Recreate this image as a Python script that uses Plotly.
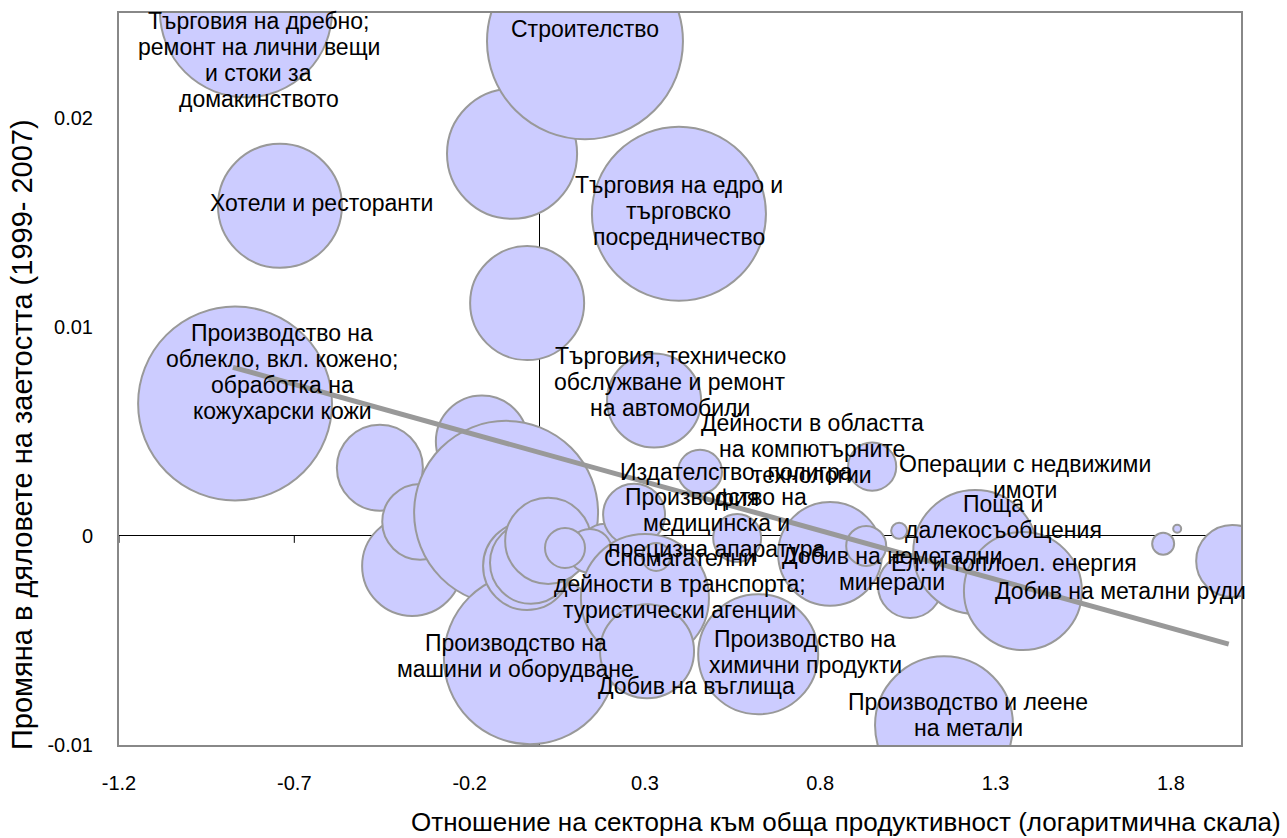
import plotly.graph_objects as go

# ---------------- data ----------------
sectors = [
    "Търговия на дребно", "Сектор A", "Строителство", "Хотели и ресторанти",
    "Търговия на едро", "Сектор B", "Облекло", "Автомобили",
    "Сектор C", "Сектор D", "Сектор E", "Сектор F", "Сектор G",
    "Машини и оборудване", "Сектор H", "Сектор I", "Сектор J",
    "Сектор K", "Сектор L", "Сектор M", "Сектор N",
    "Спомагателни дейности в транспорта", "Добив на въглища", "Химични продукти",
    "Издателство", "Медицинска апаратура", "Сектор O",
    "Добив на неметални минерали", "Сектор P", "Сектор Q", "Сектор R",
    "Поща и далекосъобщения", "Ел. и топлоел. енергия", "Компютърни технологии",
    "Производство и леене на метали", "Операции с недвижими имоти", "Сектор S",
    "Добив на метални руди",
]
# log relative productivity
x_vals = [
    -0.838, -0.079, 0.129, -0.741,
    0.397, -0.036, -0.869, 0.326,
    -0.456, -0.364, -0.341, -0.165, -0.096,
    -0.028, -0.036, -0.025, 0.024,
    0.186, 0.143, 0.072, 0.269,
    0.300, 0.306, 0.623,
    0.457, 0.563, 0.332,
    0.828, 0.931, 1.025, 1.056,
    1.242, 1.378, 0.948,
    1.153, 1.778, 1.818,
    1.975,
]
# change in employment share 1999-2007
y_vals = [
    0.02508, 0.01827, 0.02365, 0.01578,
    0.01540, 0.01113, 0.00633, 0.00647,
    0.00326, -0.00144, 0.00067, 0.00451, 0.00110,
    -0.00585, -0.00144, -0.00129, -0.00024,
    -0.00062, -0.00072, -0.00058, 0.00101,
    -0.00297, -0.00552, -0.00566,
    0.00307, -0.00010, -0.00101,
    -0.00086, -0.00048, 0.00024, -0.00240,
    -0.00077, -0.00264, 0.00331,
    -0.00906, -0.00038, 0.00034,
    -0.00120,
]
# bubble size (employment weight)
bubble_size = [
    74.0, 42.3, 96.0, 38.4,
    75.7, 32.5, 94.0, 22.1,
    18.5, 25.0, 14.4, 21.2, 84.6,
    74.0, 19.4, 16.8, 18.5,
    6.25, 4.84, 4.0, 9.6,
    41.0, 22.1, 36.0,
    4.84, 5.76, 1.96,
    27.0, 4.0, 0.64, 10.2,
    38.4, 34.8, 5.8,
    47.6, 1.21, 0.16,
    13.0,
]
labels = [
    "Търговия на дребно;<br>ремонт на лични вещи<br>и стоки за<br>домакинството", "",
    "Строителство", "Хотели и ресторанти",
    "Търговия на едро и<br>търговско<br>посредничество", "",
    "Производство на<br>облекло, вкл. кожено;<br>обработка на<br>кожухарски кожи",
    "Търговия, техническо<br>обслужване и ремонт<br>на автомобили",
    "", "", "", "", "",
    "Производство на<br>машини и оборудване", "", "", "",
    "", "", "", "",
    "Спомагателни<br>дейности в транспорта;<br>туристически агенции",
    "Добив на въглища",
    "Производство на<br>химични продукти",
    "Издателство, полигра<br>фия",
    "Производство на<br>медицинска и<br>прецизна апаратура", "",
    "Добив на неметални<br>минерали", "", "", "",
    "Поща и<br>далекосъобщения", "Ел. и топлоел. енергия",
    "Дейности в областта<br>на компютърните<br>технологии",
    "Производство и леене<br>на метали",
    "Операции с недвижими<br>имоти", "",
    "Добив на метални руди",
]
# label offsets from bubble centre (px)
label_dx = [13, 0, 0, 42, 0, 0, 47, 16, 0, 0, 0, 0, 0, -14, 0, 0, 0, 0, 0, 0, 0,
            35, 49, 47, 37, -21, 0, 62, 0, 0, 0, 28, -9, -60, 24, -138, 0, -112]
label_dy = [-49, 0, 12, 3, 3, 0, 31, 19, 0, 0, 0, 0, 0, 2, 0, 0, 0, 0, 0, 0, 0,
            14, -35, 2, -13, 15, 0, -15, 0, 0, 0, 35, 28, 18, 10, 67, 0, -30]

trend_x = [-0.875, 1.965]
trend_y = [0.00806, -0.00518]

x_ticks = [-1.2, -0.7, -0.2, 0.3, 0.8, 1.3, 1.8]
x_tick_text = ["-1.2", "-0.7", "-0.2", "0.3", "0.8", "1.3", "1.8"]
y_ticks = [-0.01, 0, 0.01, 0.02]
y_tick_text = ["-0.01", "0", "0.01", "0.02"]

x_title = "Отношение на секторна към обща продуктивност (логаритмична скала)"
y_title = "Промяна в дяловете на заетостта (1999- 2007)"

# ---------------- layout constants ----------------
W, H = 1287, 838
M = dict(l=119, r=46, t=13, b=93)
X_RANGE = [-1.2, 2.0]
Y_RANGE = [-0.01, 0.025]
FONT = "Liberation Sans, Arial, sans-serif"
LABEL_SIZE = 23
LINE_GAP = 26
px_per_y = (H - M["t"] - M["b"]) / (Y_RANGE[1] - Y_RANGE[0])

fig = go.Figure()

fig.add_trace(go.Scatter(
    x=x_vals, y=y_vals, mode="markers", text=sectors, hoverinfo="text",
    marker=dict(size=bubble_size, sizemode="area", sizeref=0.005,
                color="#CCCCFF", opacity=1,
                line=dict(color="#999999", width=2)),
    showlegend=False,
))
fig.add_trace(go.Scatter(
    x=trend_x, y=trend_y, mode="lines",
    line=dict(color="#999999", width=5), hoverinfo="skip", showlegend=False,
))

for xv, yv, lab, dx, dy in zip(x_vals, y_vals, labels, label_dx, label_dy):
    if not lab:
        continue
    # keep anchor inside the axis range (annotations outside are hidden)
    ya = min(max(yv, Y_RANGE[0]), Y_RANGE[1])
    extra = (yv - ya) * px_per_y
    lines = lab.split("<br>")
    n = len(lines)
    for i, ln in enumerate(lines):
        fig.add_annotation(x=xv, y=ya, text=ln, showarrow=False,
                           xanchor="center", yanchor="middle",
                           xshift=dx, yshift=dy + extra + ((n - 1) / 2 - i) * LINE_GAP,
                           font=dict(family=FONT, size=LABEL_SIZE, color="black"))

shapes = []
for t in x_ticks:
    shapes.append(dict(type="line", xref="x", yref="y", x0=t, x1=t,
                       ysizemode="pixel", yanchor=0, y0=0, y1=-7,
                       line=dict(color="black", width=1), layer="below"))
for t in y_ticks:
    shapes.append(dict(type="line", xref="x", yref="y", y0=t, y1=t,
                       xsizemode="pixel", xanchor=0, x0=0, x1=-7,
                       line=dict(color="black", width=1), layer="below"))

fig.add_annotation(xref="paper", yref="paper", x=1, y=0, xanchor="right",
                   yanchor="middle", xshift=42, yshift=-77, text=x_title,
                   showarrow=False, font=dict(family=FONT, size=26, color="black"))
fig.add_annotation(xref="paper", yref="paper", x=0, y=0.5, xanchor="center",
                   yanchor="middle", xshift=-97, yshift=-56, textangle=-90,
                   text=y_title, showarrow=False,
                   font=dict(family=FONT, size=29, color="black"))

fig.update_layout(
    width=W, height=H,
    margin=M,
    paper_bgcolor="white", plot_bgcolor="white",
    shapes=shapes,
    xaxis=dict(range=X_RANGE, tickvals=x_ticks, ticktext=x_tick_text,
               showgrid=False, zeroline=True, zerolinecolor="black",
               zerolinewidth=1, showline=True, mirror=True,
               linecolor="#888888", linewidth=2, ticks="",
               ticklabelstandoff=19,
               tickfont=dict(family=FONT, size=20, color="black")),
    yaxis=dict(range=Y_RANGE, tickvals=y_ticks, ticktext=y_tick_text,
               showgrid=False, zeroline=True, zerolinecolor="black",
               zerolinewidth=1, showline=True, mirror=True,
               linecolor="#888888", linewidth=2, ticks="",
               ticklabelstandoff=20,
               tickfont=dict(family=FONT, size=20, color="black")),
)

fig.write_html("out.html", config={"displayModeBar": False},
               post_script="document.body.style.margin='0';document.body.style.overflow='hidden';")
